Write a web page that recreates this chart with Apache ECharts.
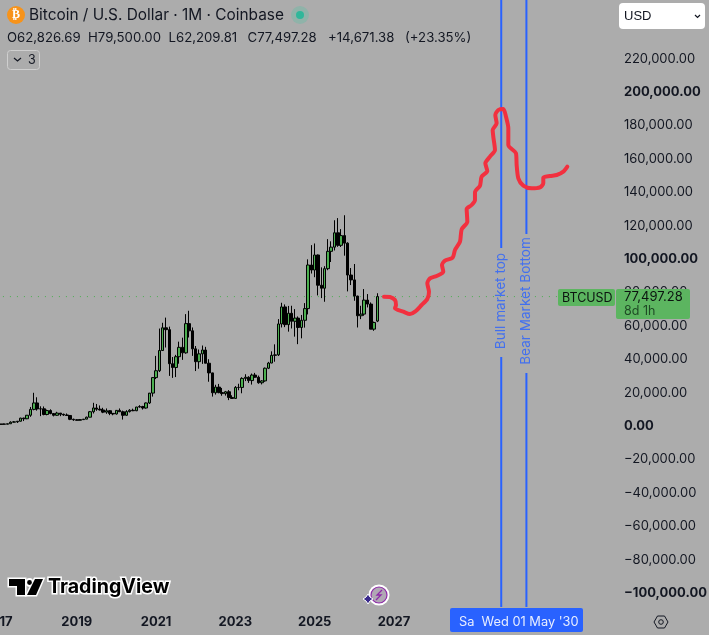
<!DOCTYPE html>
<html><head><meta charset="utf-8">
<style>html,body{margin:0;padding:0;background:#acacac}#c{width:709px;height:635px}</style>
<script src="https://cdn.jsdelivr.net/npm/echarts@6/dist/echarts.min.js"></script>
</head><body><div id="c"></div>
<script>
const startYear = 2017, monthsShown = 188;
const opens = [966,970,1190,1080,1350,2300,2480,2860,4700,4340,6440,9950,
13800,10200,10300,6900,9250,7500,6400,7730,7000,6600,6300,4000,
3700,3440,3820,4100,5270,8550,10800,10080,9600,8300,9150,7550,
7190,9350,8530,6410,8620,9450,9140,11350,11650,10780,13800,19700,
28990,33100,45200,58800,57700,37300,35040,41500,47100,43800,61300,57000,
46200,38500,43200,45500,37600,31800,19900,23300,20000,19400,20500,17100,
16500,23100,23100,28500,29200,27200,30500,29200,25900,27000,34600,37700,
42300,42600,61100,71300,60700,67500,62700,64600,59000,63300,70300,96400,
93400,102400,84300,82500,94200,104600,107100,115700,108200,114000,109500,90400,
87500,77800,66000,67000,75400,73000,58000,62826.69];
const highs = [1150,1200,1350,1350,2790,3000,2950,4950,5000,6470,11400,19890,
17200,11800,11700,9800,10000,7770,8500,7450,7400,7500,6550,4400,
4080,4200,4150,5600,9000,13880,13200,12300,10900,10500,9500,7750,
9580,10500,9190,9460,10080,10380,11450,12480,12080,14100,19500,29300,
41980,58350,61800,64900,59500,41300,42600,50500,52900,67000,69000,59000,
47900,45800,48200,47400,40000,31900,24700,25200,22800,21000,21500,18400,
23900,25300,29200,31000,29800,31400,31800,30200,27500,35000,38400,44700,
48900,64000,73800,72800,71900,72000,70000,65600,66500,73600,99800,108300,
109300,102700,95000,95700,111900,110600,123200,124500,117900,126200,110000,94600,
97000,78000,72000,82000,79000,74000,62500,79500];
const lows = [750,930,900,1060,1330,2100,1830,2700,2950,4100,5500,9400,
9200,5900,6400,6400,7000,5750,6100,5900,6100,6200,3500,3100,
3350,3350,3700,4100,5300,7500,9100,9300,7700,7300,6500,6430,
6850,8450,3850,6150,8100,8900,8900,11000,9850,10400,13200,17600,
28100,32300,45000,47000,30000,28800,29300,37300,39600,43300,53000,42000,
32900,34300,37200,37600,26500,17600,18800,19600,18100,18200,15500,16300,
16500,21400,19600,26900,25800,24800,28900,25300,24900,26500,34100,37600,
38500,41900,59000,59200,56500,58400,53500,49000,52500,58900,66800,91300,
89100,78200,76600,74400,93300,98200,105100,107300,107200,102000,80600,84400,
75000,59000,64000,66000,71000,58000,57000,62209.81];
const closes = [970,1190,1080,1350,2300,2480,2860,4700,4340,6440,9950,13800,
10200,10300,6900,9250,7500,6400,7730,7000,6600,6300,4000,3700,
3440,3820,4100,5270,8550,10800,10080,9600,8300,9150,7550,7190,
9350,8530,6410,8620,9450,9140,11350,11650,10780,13800,19700,28990,
33100,45200,58800,57700,37300,35040,41500,47100,43800,61300,57000,46200,
38500,43200,45500,37600,31800,19900,23300,20000,19400,20500,17100,16500,
23100,23100,28500,29200,27200,30500,29200,25900,27000,34600,37700,42300,
42600,61100,71300,60700,67500,62700,64600,59000,63300,70300,96400,93400,
102400,84300,82500,94200,104600,107100,115700,108200,114000,109500,90400,87500,
77800,66000,67000,75400,73000,58000,62000,77497.28];
const priceTicks = [220000,200000,180000,160000,140000,120000,100000,80000,60000,40000,20000,0,-20000,-40000,-60000,-80000,-100000];
const boldTicks = [200000,100000,0,-100000];
const sketchPath = [[2026.748,77447],[2026.899,77247],[2027.025,75450],[2027.051,72457],[2027.025,70461],[2027.235,68465],[2027.404,67068],[2027.530,68465],[2027.698,72457],[2027.841,76050],[2027.883,80441],[2027.841,85431],[2027.908,88425],[2028.076,89822],[2028.244,92411],[2028.211,96409],[2028.286,99004],[2028.480,100801],[2028.539,105391],[2028.665,110381],[2028.707,117766],[2028.850,122357],[2028.833,129942],[2028.959,132337],[2029.043,135331],[2029.043,139922],[2029.169,143914],[2029.211,149303],[2029.354,152696],[2029.304,157287],[2029.421,161279],[2029.547,165271],[2029.505,173255],[2029.489,177247],[2029.589,181239],[2029.556,186229],[2029.631,189223],[2029.758,189822],[2029.825,185231],[2029.884,178245],[2029.884,168265],[2030.077,163275],[2030.094,156289],[2030.136,148305],[2030.262,143914],[2030.472,142317],[2030.682,142916],[2030.766,145311],[2030.766,148703],[2030.935,149703],[2031.103,150301],[2031.271,152297],[2031.372,155291]];
const lastPrice = 77497.28;
const bullYear = 2029.705, bearYear = 2030.34;
const priceMax = 255090, priceMin = -108383;
const quoteParts = [['O62,826.69', 7], ['H79,500.00', 88], ['L62,209.81', 168.5], ['C77,497.28', 247.5], ['+14,671.38', 328], ['(+23.35%)', 405]];

const months = [];
for (let i = 0; i < monthsShown; i++) {
  const y = startYear + Math.floor(i / 12), m = i % 12 + 1;
  months.push(y + '-' + String(m).padStart(2, '0'));
}
const fontUI = 'Inter, "Liberation Sans", sans-serif';
const fmt = v => (v < 0 ? '\u2212' : '') + Math.abs(v).toLocaleString('en-US', {minimumFractionDigits: 2, maximumFractionDigits: 2});
const blue = '#2962ff', green = '#5cb560', ink = '#131722';
const candles = opens.map((o, i) => [o, closes[i], lows[i], highs[i]]);
const vline = (name, data) => ({name, type: 'line', xAxisIndex: 1, yAxisIndex: 0, data, symbol: 'none', silent: true, z: 4,
  lineStyle: {color: blue, width: 2}});
const logoA = [[9, 579], [25, 579], [25, 595], [17, 595], [17, 586], [9, 586]];
const logoB = [[35, 579], [43, 579], [36, 595], [27, 595]];
const chart = echarts.init(document.getElementById('c'));
chart.setOption({
  animation: false,
  backgroundColor: '#acacac',
  textStyle: {fontFamily: fontUI},
  grid: {left: -4.15, width: 621.15, top: 0, height: 607, containLabel: false, outerBoundsMode: 'none'},
  xAxis: [{
    type: 'category', data: months, boundaryGap: true,
    axisLine: {show: false}, axisTick: {show: false}, splitLine: {show: false},
    axisLabel: {
      interval: (i, v) => v.endsWith('-01') && (+v.slice(0, 4)) % 2 === 1,
      formatter: v => v.slice(0, 4),
      color: ink, fontSize: 13, fontWeight: 'bold', margin: 9, hideOverlap: false, fontFamily: fontUI
    }
  }, {
    type: 'value', show: false,
    min: startYear - 0.5 / 12, max: startYear - 0.5 / 12 + monthsShown / 12
  }],
  yAxis: [{
    type: 'value', position: 'right', min: priceMin, max: priceMax, scale: true,
    axisLine: {show: false}, axisTick: {show: false}, splitLine: {show: false},
    axisLabel: {
      customValues: priceTicks, margin: 7, color: ink, fontSize: 13, fontFamily: fontUI,
      formatter: v => boldTicks.includes(v) ? '{b|' + fmt(v) + '}' : fmt(v),
      rich: {b: {fontWeight: 'bold', fontSize: 13, color: ink, fontFamily: fontUI}}
    }
  }],
  series: [
    {name: 'BTCUSD', type: 'candlestick', xAxisIndex: 0, yAxisIndex: 0, data: candles, barWidth: 3, z: 3,
      itemStyle: {color: '#4caf50', color0: '#000', borderColor: '#000', borderColor0: '#000', borderWidth: 1}},
    {name: 'last', type: 'line', xAxisIndex: 1, yAxisIndex: 0, symbol: 'none', z: 2,
      data: [[startYear - 0.04, lastPrice], [2031.137, lastPrice]],
      lineStyle: {color: '#4caf50', width: 1, type: [1, 6]}},
    vline('bullTop', [[bullYear, priceMax], [bullYear, 106588]]),
    vline('bullBottom', [[bullYear, 41319], [bullYear, priceMin]]),
    vline('bearTop', [[bearYear, priceMax], [bearYear, 114971]]),
    vline('bearBottom', [[bearYear, 31738], [bearYear, priceMin]]),
    {name: 'lineLabels', type: 'scatter', xAxisIndex: 1, yAxisIndex: 0, symbolSize: 1, itemStyle: {color: 'rgba(0,0,0,0)'}, z: 5,
      label: {show: true, position: 'inside', rotate: 90, offset: [2, 0], formatter: '{b}', color: blue, fontSize: 13.6, fontFamily: fontUI},
      data: [{name: 'Bull market top', value: [bullYear, 73653]}, {name: 'Bear Market Bottom', value: [bearYear, 73653]}]},
    {name: 'sketch', type: 'line', xAxisIndex: 1, yAxisIndex: 0, data: sketchPath, symbol: 'none', smooth: 0.25, z: 6,
      lineStyle: {color: '#f2303f', width: 4, cap: 'round', join: 'round'}}
  ],
  graphic: {elements: [
    {type: 'circle', shape: {cx: 16, cy: 15, r: 9}, style: {fill: '#f7931a'}, z: 100},
    {type: 'text', style: {x: 16, y: 15, text: '\u20bf', fill: '#fff', font: 'bold 12px "DejaVu Sans"', align: 'center', verticalAlign: 'middle'}, z: 101},
    {type: 'text', style: {x: 29, y: 15, text: 'Bitcoin / U.S. Dollar \u00b7 1M \u00b7 Coinbase', fill: ink, font: '15.4px ' + fontUI, verticalAlign: 'middle'}, z: 100},
    {type: 'circle', shape: {cx: 300, cy: 15, r: 9}, style: {fill: '#8fb3a9'}, z: 100},
    {type: 'circle', shape: {cx: 300, cy: 15, r: 4}, style: {fill: '#2fb79a'}, z: 101},
    ...quoteParts.map(([t, x]) => ({type: 'text', style: {x, y: 38, text: t, fill: ink, font: '13.2px ' + fontUI, verticalAlign: 'middle'}, z: 100})),
    {type: 'rect', shape: {x: 7.5, y: 50.5, width: 32, height: 19, r: 3}, style: {fill: 'none', stroke: '#cfcfcf', lineWidth: 1}, z: 100},
    {type: 'polyline', shape: {points: [[14, 58], [17.5, 61], [21, 58]]}, style: {stroke: ink, lineWidth: 1.2, fill: 'none'}, z: 100},
    {type: 'text', style: {x: 28, y: 60, text: '3', fill: ink, font: '12.5px ' + fontUI, verticalAlign: 'middle'}, z: 100},
    {type: 'rect', shape: {x: 619, y: 3, width: 86, height: 26, r: 4}, style: {fill: '#fff'}, z: 100},
    {type: 'text', style: {x: 624, y: 16, text: 'USD', fill: ink, font: '13px "Liberation Sans"', verticalAlign: 'middle'}, z: 101},
    {type: 'polyline', shape: {points: [[695, 15], [697.5, 17.5], [700, 15]]}, style: {stroke: ink, lineWidth: 1.2, fill: 'none'}, z: 101},
    {type: 'rect', shape: {x: 558, y: 289, width: 57, height: 17, r: 2}, style: {fill: green}, z: 100},
    {type: 'text', style: {x: 562, y: 298, text: 'BTCUSD', fill: '#0c1410', font: '12.5px ' + fontUI, verticalAlign: 'middle'}, z: 101},
    {type: 'rect', shape: {x: 616, y: 289, width: 74, height: 30, r: 2}, style: {fill: green}, z: 100},
    {type: 'text', style: {x: 624, y: 297, text: '77,497.28', fill: '#0c1410', font: '13px ' + fontUI, verticalAlign: 'middle'}, z: 101},
    {type: 'text', style: {x: 624, y: 311, text: '8d 1h', fill: '#1f4a25', font: '12.5px ' + fontUI, verticalAlign: 'middle'}, z: 101},
    {type: 'rect', shape: {x: 450, y: 608, width: 133, height: 24, r: 2}, style: {fill: blue}, z: 100},
    {type: 'text', style: {x: 459, y: 622, text: 'Sa  Wed 01 May \'30', fill: '#e8eeff', font: '12.8px ' + fontUI, verticalAlign: 'middle'}, z: 101},
    {type: 'polygon', shape: {points: [[654, 622], [657.5, 616], [664.5, 616], [668, 622], [664.5, 628], [657.5, 628]]}, style: {fill: 'none', stroke: ink, lineWidth: 1}, z: 100},
    {type: 'circle', shape: {cx: 661, cy: 622, r: 2.3}, style: {fill: 'none', stroke: ink, lineWidth: 1}, z: 100},
    {type: 'polygon', shape: {points: logoA}, style: {fill: '#fff', stroke: '#fff', lineWidth: 3}, z: 99},
    {type: 'polygon', shape: {points: logoB}, style: {fill: '#fff', stroke: '#fff', lineWidth: 3}, z: 99},
    {type: 'circle', shape: {cx: 29.5, cy: 582.5, r: 3.4}, style: {fill: '#000', stroke: '#fff', lineWidth: 2}, z: 99},
    {type: 'polygon', shape: {points: logoA}, style: {fill: '#000'}, z: 100},
    {type: 'polygon', shape: {points: logoB}, style: {fill: '#000'}, z: 100},
    {type: 'text', style: {x: 48, y: 587, text: 'TradingView', fill: '#fff', stroke: '#fff', lineWidth: 3, font: 'bold 19.6px ' + fontUI, verticalAlign: 'middle'}, z: 99},
    {type: 'text', style: {x: 48, y: 587, text: 'TradingView', fill: '#000', font: 'bold 19.6px ' + fontUI, verticalAlign: 'middle'}, z: 100},
    {type: 'circle', shape: {cx: 379, cy: 595, r: 10.5}, style: {fill: '#fff'}, z: 100},
    {type: 'circle', shape: {cx: 379, cy: 595, r: 8}, style: {fill: '#b0a8b4', stroke: '#8e2aa8', lineWidth: 1.2}, z: 101},
    {type: 'polyline', shape: {points: [[382, 590], [377, 595], [381, 595], [376, 600]]}, style: {stroke: '#8e2aa8', lineWidth: 1.3, fill: 'none'}, z: 102},
    {type: 'polygon', shape: {points: [[368, 594], [370, 597], [373, 599], [370, 601], [368, 604], [366, 601], [363, 599], [366, 597]]}, style: {fill: '#3a2a8c', stroke: '#fff', lineWidth: 1}, z: 103}
  ]}
});
</script></body></html>
